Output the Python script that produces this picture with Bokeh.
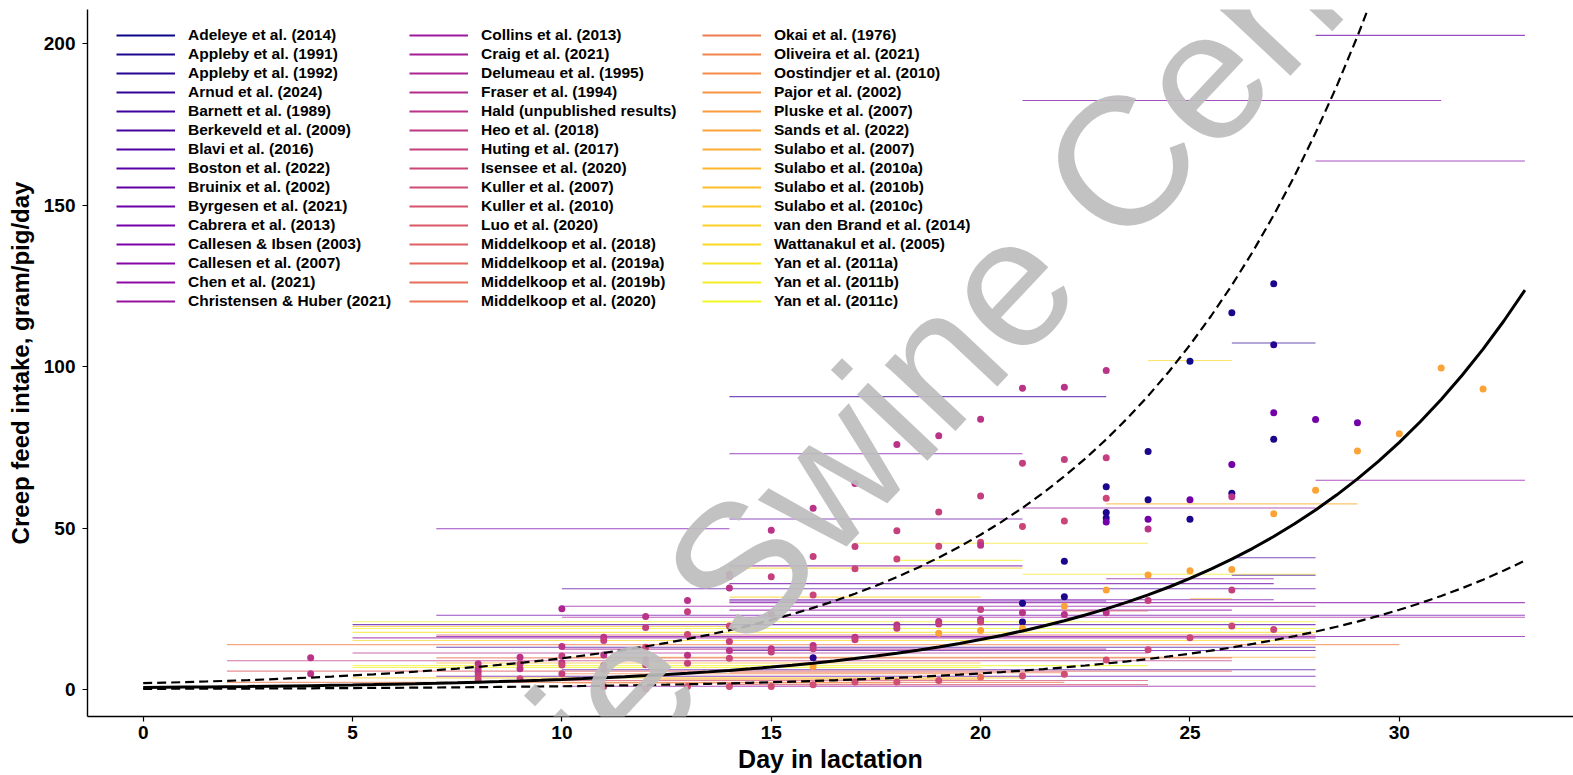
from bokeh.plotting import figure
from bokeh.models import Range1d, FixedTicker, Legend, LegendItem, ColumnDataSource, Label
from bokeh.palettes import plasma
from bokeh.embed import file_html
from bokeh.resources import INLINE

# ---------------- data ----------------
studies = [
    "Adeleye et al. (2014)", "Appleby et al. (1991)", "Appleby et al. (1992)", "Arnud et al. (2024)",
    "Barnett et al. (1989)", "Berkeveld et al. (2009)", "Blavi et al. (2016)", "Boston et al. (2022)",
    "Bruinix et al. (2002)", "Byrgesen et al. (2021)", "Cabrera et al. (2013)", "Callesen & Ibsen (2003)",
    "Callesen et al. (2007)", "Chen et al. (2021)", "Christensen & Huber (2021)",
    "Collins et al. (2013)", "Craig et al. (2021)", "Delumeau et al. (1995)", "Fraser et al. (1994)",
    "Hald (unpublished results)", "Heo et al. (2018)", "Huting et al. (2017)", "Isensee et al. (2020)",
    "Kuller et al. (2007)", "Kuller et al. (2010)", "Luo et al. (2020)", "Middelkoop et al. (2018)",
    "Middelkoop et al. (2019a)", "Middelkoop et al. (2019b)", "Middelkoop et al. (2020)",
    "Okai et al. (1976)", "Oliveira et al. (2021)", "Oostindjer et al. (2010)", "Pajor et al. (2002)",
    "Pluske et al. (2007)", "Sands et al. (2022)", "Sulabo et al. (2007)", "Sulabo et al. (2010a)",
    "Sulabo et al. (2010b)", "Sulabo et al. (2010c)", "van den Brand et al. (2014)",
    "Wattanakul et al. (2005)", "Yan et al. (2011a)", "Yan et al. (2011b)", "Yan et al. (2011c)",
]

# horizontal segments: study index, first day, last day, mean intake
seg_study = [9, 11, 12, 2, 41, 5, 10, 13, 36, 14, 8, 10, 42, 6, 43, 11, 41, 42, 3, 12,
             9, 7, 40, 37, 10, 8, 12, 14, 13, 27, 9, 16, 43, 6, 39, 44, 42, 25, 11, 15,
             41, 31, 4, 17, 7, 18, 36, 28, 20, 38, 44, 43, 5, 26, 29, 32, 8, 40, 34, 23,
             30, 33, 24, 13]
seg_x0 = [28, 21, 28, 26, 24, 14, 14, 28, 23, 21, 14, 7, 17, 26, 18, 14, 14, 21, 26, 23,
          14, 10, 14, 25, 14, 14, 14, 10, 14, 22, 7, 10, 5, 5, 5, 5, 5, 7, 7, 5,
          5, 2, 7, 10, 14, 5, 10, 7, 2, 7, 5, 5, 10, 2, 14, 10, 7, 5, 12, 10,
          2, 10, 14, 10]
seg_x1 = [33, 31, 33, 28, 26, 23, 21, 33, 29, 28, 21, 14, 24, 28, 21, 21, 21, 28, 28, 27,
          27, 28, 20, 26, 27, 23, 33, 28, 26, 24, 33, 33, 28, 28, 14, 28, 28, 28, 33, 28,
          28, 30, 28, 23, 28, 24, 28, 26, 26, 20, 24, 20, 28, 26, 22, 20, 28, 21, 20, 24,
          22, 18, 24, 28]
seg_y = [202.6, 182.4, 163.7, 107.3, 101.9, 90.7, 73.0, 64.8, 57.5, 56.2, 52.8, 49.8, 45.3, 40.8,
         40.0, 38.3, 37.6, 35.7, 35.4, 34.3, 32.8, 31.2, 28.6, 28.1, 27.8, 27.4, 26.9, 25.8,
         24.6, 24.3, 23.0, 22.4, 21.0, 20.1, 19.5, 18.9, 17.7, 16.9, 16.4, 16.0, 15.2, 13.9,
         13.1, 12.5, 12.1, 11.3, 10.0, 9.8, 8.9, 8.2, 7.4, 6.8, 6.1, 5.7, 5.2, 4.9, 4.1, 3.6,
         3.2, 2.8, 2.2, 2.0, 1.5, 1.0]

# individual observations: study index, day, intake
pt_study = [19, 19,
            19, 21, 19, 21, 22,
            19, 21, 19, 22,
            17, 19, 21, 19, 22, 21,
            19, 21, 19, 22, 21, 23,
            19, 21, 22, 19, 21, 23,
            19, 21, 22, 19, 21, 23,
            19, 21, 19, 22, 21, 19, 22, 23,
            19, 21, 22, 19, 21, 23,
            19, 21, 22, 19, 21, 2, 35, 23,
            19, 21, 22, 19, 21, 23,
            19, 21, 22, 19, 21, 23,
            19, 21, 22, 19, 21, 35, 23,
            19, 21, 22, 19, 21, 19, 22, 35, 28,
            19, 21, 22, 1, 19, 1, 35, 23,
            19, 21, 22, 1, 1, 35, 19, 23,
            19, 21, 1, 22, 1, 2, 10, 35, 19, 23,
            1, 1, 10, 19, 35, 21, 22,
            0, 10, 1, 35, 22,
            1, 10, 1, 19, 35, 21, 22,
            1, 2, 10, 1, 35, 22,
            10, 35, 10, 35, 35, 35, 35]
pt_x = [4, 4,
        8, 8, 8, 8, 8,
        9, 9, 9, 9,
        10, 10, 10, 10, 10, 10,
        11, 11, 11, 11, 11, 11,
        12, 12, 12, 12, 12, 12,
        13, 13, 13, 13, 13, 13,
        14, 14, 14, 14, 14, 14, 14, 14,
        15, 15, 15, 15, 15, 15,
        16, 16, 16, 16, 16, 16, 16, 16,
        17, 17, 17, 17, 17, 17,
        18, 18, 18, 18, 18, 18,
        19, 19, 19, 19, 19, 19, 19,
        20, 20, 20, 20, 20, 20, 20, 20, 20,
        21, 21, 21, 21, 21, 21, 21, 21,
        22, 22, 22, 22, 22, 22, 22, 22,
        23, 23, 23, 23, 23, 23, 23, 23, 23, 23,
        24, 24, 24, 24, 24, 24, 24,
        25, 25, 25, 25, 25,
        26, 26, 26, 26, 26, 26, 26,
        27, 27, 27, 27, 27, 27,
        28, 28, 29, 29, 30, 31, 32]
pt_y = [9.8, 4.9,
        8.0, 6.4, 5.4, 4.3, 3.0,
        10.0, 8.0, 6.4, 3.3,
        25.0, 13.3, 10.4, 8.3, 7.6, 4.9,
        16.2, 15.2, 10.7, 7.4, 6.2, 0.9,
        22.6, 19.2, 13.1, 9.2, 7.7, 0.2,
        27.6, 24.1, 17.0, 10.6, 8.1, 0.9,
        35.8, 35.0, 31.4, 19.7, 14.9, 12.1, 9.7, 0.9,
        49.3, 34.9, 23.4, 12.6, 11.6, 0.9,
        56.1, 41.2, 29.3, 13.6, 12.6, 9.8, 7.1, 1.5,
        63.8, 44.3, 37.4, 16.2, 15.4, 2.3,
        75.9, 49.2, 40.4, 20.0, 19.0, 2.3,
        78.6, 55.0, 44.4, 21.1, 20.3, 17.4, 2.8,
        83.7, 59.9, 45.6, 44.7, 24.8, 21.7, 20.9, 18.3, 3.8,
        93.3, 70.1, 50.5, 26.7, 23.8, 20.9, 19.0, 4.2,
        93.6, 71.2, 52.2, 39.7, 28.7, 25.8, 23.2, 4.7,
        98.8, 71.8, 62.8, 59.2, 54.8, 53.1, 51.9, 30.8, 23.8, 9.1,
        73.7, 58.8, 52.7, 49.7, 35.5, 27.6, 12.3,
        101.7, 58.8, 52.7, 36.8, 16.0,
        116.7, 69.7, 60.8, 59.7, 37.2, 30.8, 19.7,
        125.7, 106.8, 85.7, 77.5, 54.4, 18.6,
        83.6, 61.7, 82.6, 73.9, 79.2, 99.6, 93.1]

# fitted curve and its band, every half day
curve_day = [0, 0.5, 1, 1.5, 2, 2.5, 3, 3.5, 4, 4.5, 5, 5.5, 6, 6.5, 7, 7.5, 8, 8.5, 9, 9.5,
             10, 10.5, 11, 11.5, 12, 12.5, 13, 13.5, 14, 14.5, 15, 15.5, 16, 16.5, 17, 17.5,
             18, 18.5, 19, 19.5, 20, 20.5, 21, 21.5, 22, 22.5, 23, 23.5, 24, 24.5, 25, 25.5,
             26, 26.5, 27, 27.5, 28, 28.5, 29, 29.5, 30, 30.5, 31, 31.5, 32, 32.5, 33]
fit_mid = [0.63, 0.68, 0.74, 0.80, 0.87, 0.94, 1.02, 1.10, 1.19, 1.29, 1.40, 1.52, 1.65, 1.78,
           1.93, 2.09, 2.27, 2.45, 2.66, 2.88, 3.12, 3.38, 3.66, 3.97, 4.30, 4.66, 5.04, 5.46,
           5.92, 6.41, 6.95, 7.52, 8.15, 8.83, 9.57, 10.36, 11.22, 12.16, 13.17, 14.27, 15.46,
           16.74, 18.14, 19.65, 21.28, 23.06, 24.98, 27.06, 29.31, 31.75, 34.40, 37.26, 40.36,
           43.73, 47.37, 51.31, 55.58, 60.21, 65.23, 70.66, 76.55, 82.92, 89.83, 97.31, 105.42,
           114.20, 123.71]
fit_upper = [1.95, 2.12, 2.29, 2.48, 2.69, 2.91, 3.15, 3.42, 3.70, 4.01, 4.34, 4.71, 5.10, 5.52,
             5.98, 6.48, 7.02, 7.61, 8.24, 8.93, 9.67, 10.48, 11.35, 12.30, 13.32, 14.43, 15.64,
             16.94, 18.35, 19.88, 21.54, 23.33, 25.28, 27.38, 29.66, 32.13, 34.81, 37.71, 40.85,
             44.25, 47.94, 51.93, 56.26, 60.94, 66.02, 71.52, 77.47, 83.93, 90.92, 98.49, 106.7,
             115.6, 125.2, 135.6, 146.9, 159.1, 172.4, 186.7, 202.3, 219.1, 237.4]
fit_lower = [0.20, 0.22, 0.24, 0.26, 0.28, 0.30, 0.33, 0.36, 0.38, 0.42, 0.45, 0.49, 0.53, 0.57,
             0.62, 0.67, 0.73, 0.79, 0.86, 0.93, 1.01, 1.09, 1.18, 1.28, 1.39, 1.50, 1.63, 1.76,
             1.91, 2.07, 2.24, 2.43, 2.63, 2.85, 3.09, 3.34, 3.62, 3.92, 4.25, 4.60, 4.99, 5.40,
             5.85, 6.34, 6.86, 7.44, 8.06, 8.73, 9.45, 10.24, 11.10, 12.02, 13.02, 14.11, 15.28,
             16.55, 17.93, 19.42, 21.04, 22.79, 24.69, 26.75, 28.98, 31.39, 34.01, 36.84, 39.91]

x_ticks = [0, 5, 10, 15, 20, 25, 30]
y_ticks = [0, 50, 100, 150, 200]
x_title = "Day in lactation"
y_title = "Creep feed intake, gram/pig/day"
watermark = "Prairie Swine Centre"

# ---------------- figure ----------------
FONT = "Liberation Sans"
palette = plasma(len(studies))
NAN = float("nan")

p = figure(width=1573, height=775,
           x_range=Range1d(-1.33, 34.16), y_range=Range1d(-8.36, 210.6),
           output_backend="svg", toolbar_location=None,
           min_border_left=87, min_border_right=0, min_border_top=9, min_border_bottom=59)
p.xgrid.visible = False
p.ygrid.visible = False
p.outline_line_color = None
p.background_fill_color = "white"
p.border_fill_color = "white"

seg_src = ColumnDataSource(dict(x0=seg_x0, x1=seg_x1, y=seg_y,
                                color=[palette[i] for i in seg_study]))
p.segment(x0="x0", y0="y", x1="x1", y1="y", source=seg_src,
          line_color="color", line_alpha=0.7, line_width=1.1)

pt_src = ColumnDataSource(dict(x=pt_x, y=pt_y, color=[palette[i] for i in pt_study]))
p.scatter(x="x", y="y", source=pt_src, size=7, fill_color="color", line_color=None)

p.line(curve_day, fit_mid, line_color="black", line_width=3)
p.line(curve_day[:len(fit_upper)], fit_upper, line_color="black", line_width=2.2, line_dash="9 5")
p.line(curve_day, fit_lower, line_color="black", line_width=2.2, line_dash="9 5")

# legend (proxy lines with no visible point, one per study)
items = []
for name, col in zip(studies, palette):
    r = p.line(x=[NAN], y=[NAN], line_color=col, line_width=2)
    items.append(LegendItem(label=name, renderers=[r]))
legend = Legend(items=items, ncols=3, orientation="vertical", location=(29, 406),
                glyph_width=59, glyph_height=18, label_height=18, label_width=220,
                label_standoff=13, spacing=1, padding=0, margin=0,
                border_line_alpha=0, background_fill_alpha=0,
                label_text_font=FONT, label_text_font_style="bold",
                label_text_font_size="15.5px", label_text_color="black")
p.add_layout(legend)

# axes
for ax in (p.xaxis[0], p.yaxis[0]):
    ax.axis_line_color = "black"
    ax.axis_line_width = 1.4
    ax.major_tick_line_color = "black"
    ax.major_tick_line_width = 1.2
    ax.major_tick_out = 5
    ax.major_tick_in = 0
    ax.minor_tick_out = 0
    ax.minor_tick_in = 0
    ax.major_label_text_font = FONT
    ax.major_label_text_font_style = "bold"
    ax.major_label_text_font_size = "19px"
    ax.major_label_text_color = "black"
    ax.axis_label_text_font = FONT
    ax.axis_label_text_font_style = "bold"
    ax.axis_label_text_color = "black"

p.xaxis.ticker = FixedTicker(ticks=x_ticks)
p.yaxis.ticker = FixedTicker(ticks=y_ticks)
p.xaxis.axis_label = x_title
p.yaxis.axis_label = y_title
p.xaxis.axis_label_text_font_size = "25px"
p.yaxis.axis_label_text_font_size = "24px"
p.xaxis.major_label_standoff = 4
p.xaxis.axis_label_standoff = 3
p.yaxis.major_label_standoff = 7
p.yaxis.axis_label_standoff = 7

# watermark stamped over the chart
p.add_layout(Label(x=17.51, y=82.7, text=watermark, angle=0.815,
                   text_align="center", text_baseline="middle",
                   text_font=FONT, text_font_size="183px",
                   text_color="#bdbdbd", text_alpha=0.92))

open("out.html", "w").write(file_html(p, INLINE))
